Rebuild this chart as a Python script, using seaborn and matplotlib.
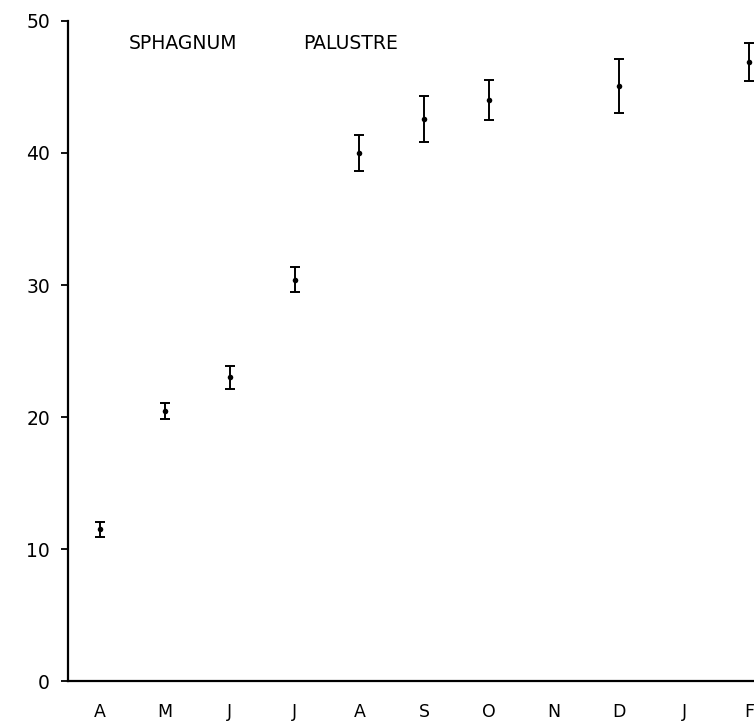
import matplotlib
matplotlib.use("Agg")
import matplotlib.pyplot as plt
import seaborn as sns
import pandas as pd

# month axis (April .. February)
months = ["A", "M", "J", "J", "A", "S", "O", "N", "D", "J", "F"]

# sampled months (index into months), mean values and error bar extents
sample_idx = [0, 1, 2, 3, 4, 5, 6, 8, 10]
means = [11.5, 20.45, 23.0, 30.4, 40.0, 42.6, 44.0, 45.1, 46.9]
err_low = [0.55, 0.6, 0.9, 0.95, 1.4, 1.75, 1.5, 2.05, 1.45]
err_high = [0.55, 0.65, 0.9, 0.95, 1.4, 1.75, 1.5, 2.0, 1.45]

y_ticks = [0, 10, 20, 30, 40, 50]

df = pd.DataFrame({"month": sample_idx, "value": means,
                   "lo": err_low, "hi": err_high})

sns.set_style("ticks")
plt.rcParams["font.family"] = ["DejaVu Sans"]
plt.rcParams["text.color"] = "black"
plt.rcParams["xtick.color"] = "black"
plt.rcParams["ytick.color"] = "black"

fig = plt.figure(figsize=(7.54, 7.23), dpi=100)
ax = fig.add_axes([0.0902, 0.058, 0.91, 0.913])

# error bars
ax.errorbar(df["month"], df["value"], yerr=[df["lo"], df["hi"]],
            fmt="none", ecolor="black", elinewidth=1.4, capsize=3.5,
            capthick=1.4)
# points
sns.scatterplot(x="month", y="value", data=df, color="black", s=16,
                edgecolor="black", linewidth=0, ax=ax, zorder=3)

ax.set_xlim(-0.49, 10.08)
ax.set_ylim(0, 50)
ax.set_xticks(range(len(months)))
ax.set_xticklabels(months)
ax.set_yticks(y_ticks)
ax.set_xlabel("")
ax.set_ylabel("")

ax.tick_params(axis="x", length=0, pad=16, labelsize=12.5, labelcolor="black")
ax.tick_params(axis="y", length=5, width=1.3, pad=8, labelsize=13.5,
               direction="out", labelcolor="black", color="black")

sns.despine(ax=ax)
for side in ["left", "bottom"]:
    ax.spines[side].set_linewidth(1.6)
    ax.spines[side].set_color("black")

# label inside the plot
ax.text(0.45, 48.3, "SPHAGNUM", fontsize=13.5, va="center", ha="left",
        color="black")
ax.text(3.13, 48.3, "PALUSTRE", fontsize=13.5, va="center", ha="left",
        color="black")

plt.savefig("out.png", dpi=100)
